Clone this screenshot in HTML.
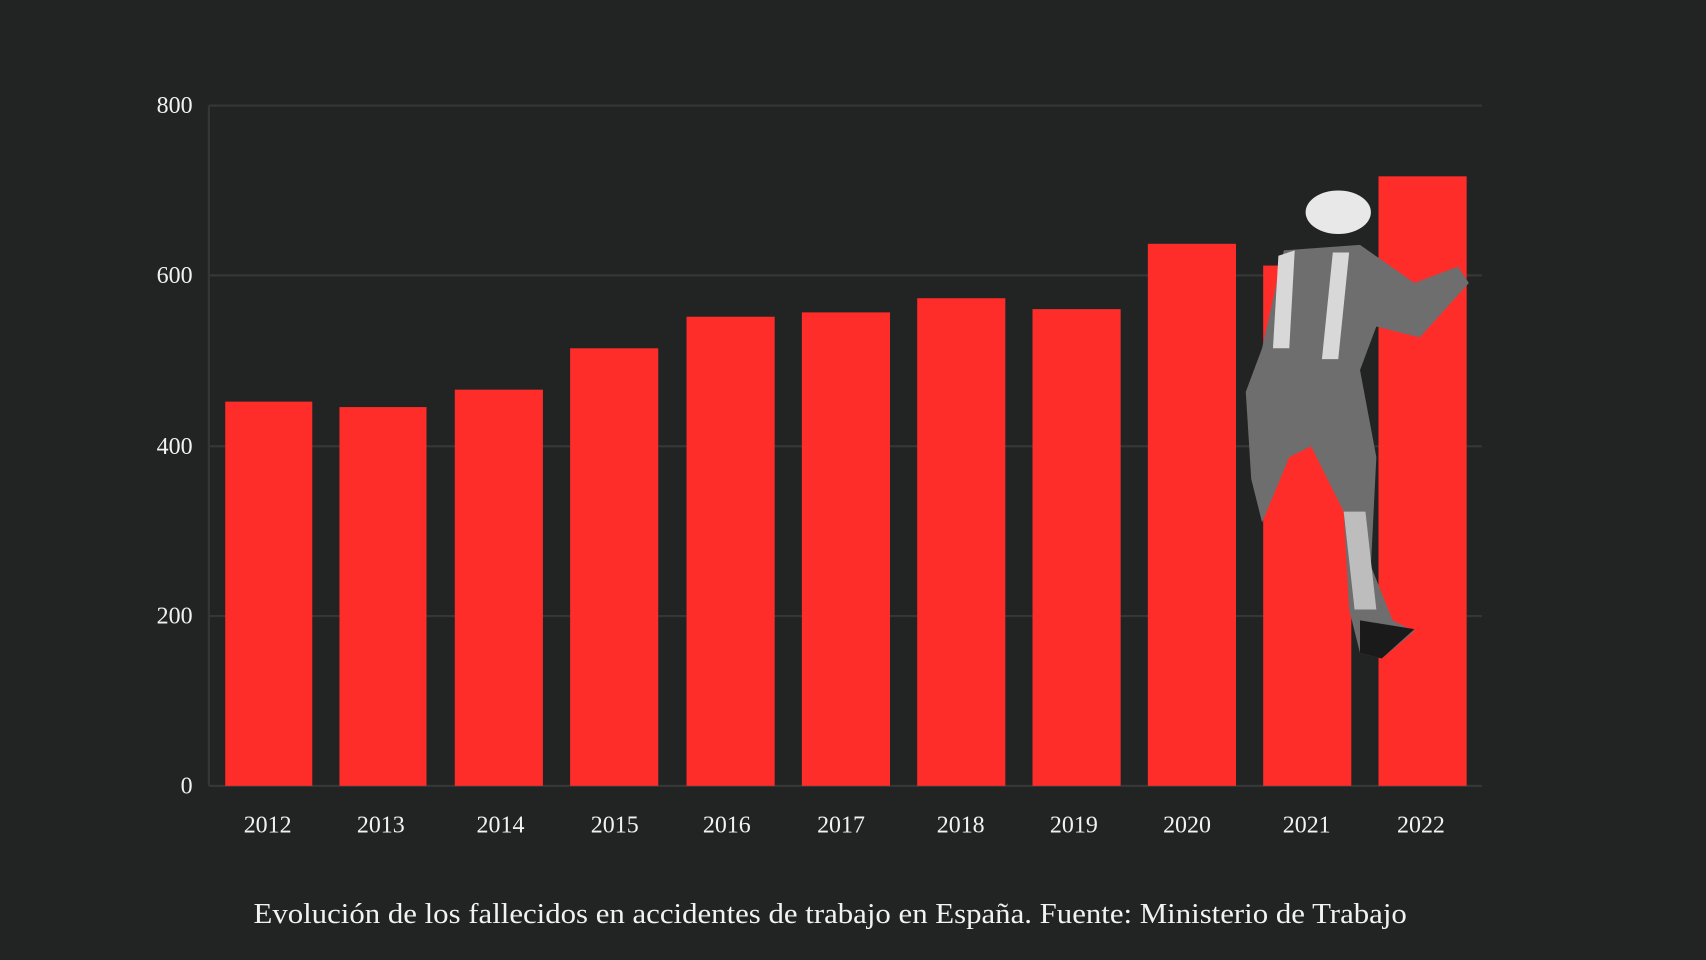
<!DOCTYPE html>
<html><head><meta charset="utf-8"><style>
html,body{margin:0;padding:0;background:#222424;}
svg{display:block}
text{font-family:"Liberation Serif",serif;fill:#f2f2f2}
</style></head><body>
<svg width="1706" height="960" viewBox="0 0 1568 882" preserveAspectRatio="none">
<rect width="1568" height="882" fill="#222424"/>
<g stroke="#353737" stroke-width="2">
<line x1="192" y1="97" x2="1362" y2="97"/>
<line x1="192" y1="253" x2="1362" y2="253"/>
<line x1="192" y1="410" x2="1362" y2="410"/>
<line x1="192" y1="566" x2="1362" y2="566"/>
<line x1="192" y1="722" x2="1362" y2="722"/>
<line x1="192" y1="97" x2="192" y2="722"/>
</g>
<g font-size="22" text-anchor="end">
<text x="177" y="104">800</text>
<text x="177" y="260">600</text>
<text x="177" y="417">400</text>
<text x="177" y="573">200</text>
<text x="177" y="729">0</text>
</g>
<g fill="#ff2d2a">
<rect x="207" y="369" width="80" height="353"/>
<rect x="312" y="374" width="80" height="348"/>
<rect x="418" y="358" width="81" height="364"/>
<rect x="524" y="320" width="81" height="402"/>
<rect x="631" y="291" width="81" height="431"/>
<rect x="737" y="287" width="81" height="435"/>
<rect x="843" y="274" width="81" height="448"/>
<rect x="949" y="284" width="81" height="438"/>
<rect x="1055" y="224" width="81" height="498"/>
<rect x="1161" y="244" width="81" height="478"/>
<rect x="1267" y="162" width="81" height="560"/>
</g>
<g fill="#8a8a8a">
<ellipse cx="1230" cy="195" rx="30" ry="20" fill="#e8e8e8"/>
<path d="M1180 230 L1250 225 L1300 260 L1340 245 L1350 260 L1305 310 L1265 300 L1250 340 L1265 420 L1260 520 L1280 570 L1300 580 L1270 605 L1250 600 L1240 560 L1235 470 L1205 410 L1185 420 L1160 480 L1150 440 L1145 360 L1160 320 Z" fill="#6e6e6e"/>
<path d="M1175 235 L1190 230 L1185 320 L1170 320 Z M1225 232 L1240 232 L1230 330 L1215 330 Z" fill="#d8d8d8"/>
<path d="M1255 470 L1265 560 L1245 560 L1235 470 Z" fill="#bdbdbd"/>
<path d="M1250 570 L1300 578 L1270 605 L1250 600 Z" fill="#1a1a1a"/>
</g>
<g font-size="22" text-anchor="middle">
<text x="246" y="765">2012</text>
<text x="350" y="765">2013</text>
<text x="460" y="765">2014</text>
<text x="565" y="765">2015</text>
<text x="668" y="765">2016</text>
<text x="773" y="765">2017</text>
<text x="883" y="765">2018</text>
<text x="987" y="765">2019</text>
<text x="1091" y="765">2020</text>
<text x="1201" y="765">2021</text>
<text x="1306" y="765">2022</text>
</g>
<text x="233" y="848" font-size="26" textLength="1060" lengthAdjust="spacingAndGlyphs">Evolución de los fallecidos en accidentes de trabajo en España. Fuente: Ministerio de Trabajo</text>
</svg>
</body></html>
